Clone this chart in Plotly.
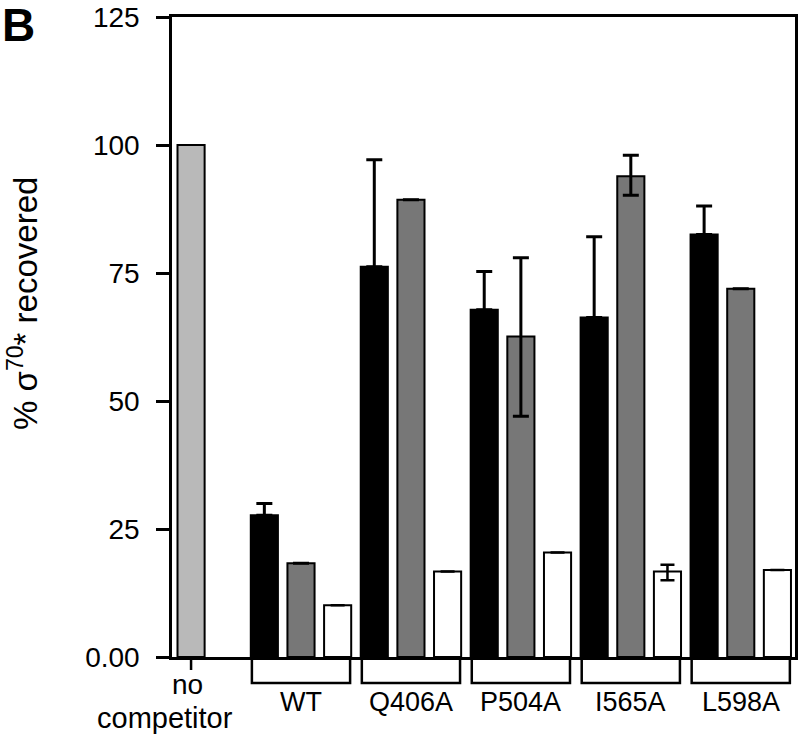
import numpy as np
import plotly.graph_objects as go

# ---- data ----
groups = ["WT", "Q406A", "P504A", "I565A", "L598A"]
nocomp_lines = ["no", "competitor"]
nocomp_value = [100]

black_vals = [27.7, 76.2, 67.8, 66.3, 82.5]
black_err_up = [2.3, 20.9, 7.5, 15.8, 5.6]

grey_vals = [18.3, 89.3, 62.6, 93.9, 71.9]
grey_err_up = [None, None, 15.4, 4.1, None]
grey_err_dn = [None, None, 15.6, 3.7, None]

white_vals = [10.1, 16.7, 20.4, 16.7, 17.0]
white_err_up = [None, None, None, 1.3, None]
white_err_dn = [None, None, None, 1.7, None]

y_ticks = [0, 25, 50, 75, 100, 125]
y_ticktext = ["0.00", "25", "50", "75", "100", "125"]

# ---- layout helpers ----
W, H = 800, 740
ML, MT = 172, 17
PW, PH = 623, 640
MR, MB = W - ML - PW, H - MT - PH
XMIN, XMAX = -0.52, 16.48
FONT = "Liberation Sans, Arial, Helvetica, sans-serif"

def py(pix):
    """screen pixel row -> paper y"""
    return (MT + PH - pix) / PH

def px(pix):
    return (pix - ML) / PW

gi = np.arange(len(groups))
x_black = 2 + 3 * gi
x_grey = 3 + 3 * gi
x_white = 4 + 3 * gi
x_center = 3 + 3 * gi
BW = 0.74

def clean(a):
    return [np.nan if v is None else v for v in a]

fig = go.Figure()
fig.add_trace(go.Bar(x=[0], y=nocomp_value, width=BW,
                     marker=dict(color="#b9b9b9", line=dict(color="black", width=2))))
fig.add_trace(go.Bar(x=x_black, y=black_vals, width=BW,
                     marker=dict(color="black", line=dict(color="black", width=2)),
                     error_y=dict(type="data", symmetric=False, array=black_err_up,
                                  arrayminus=[0] * len(groups), color="black",
                                  thickness=3, width=8)))
fig.add_trace(go.Bar(x=x_grey, y=grey_vals, width=BW,
                     marker=dict(color="#777777", line=dict(color="black", width=2)),
                     error_y=dict(type="data", symmetric=False, array=clean(grey_err_up),
                                  arrayminus=clean(grey_err_dn), color="black",
                                  thickness=3, width=8)))
fig.add_trace(go.Bar(x=x_white, y=white_vals, width=BW,
                     marker=dict(color="white", line=dict(color="black", width=2)),
                     error_y=dict(type="data", symmetric=False, array=clean(white_err_up),
                                  arrayminus=clean(white_err_dn), color="black",
                                  thickness=2.5, width=7)))

shapes = []
bh = 26 / PH
half = 1.34
for c in x_center:
    shapes.append(dict(type="path", xref="x", yref="paper",
                       path=f"M {c-half},0 L {c-half},{-bh} L {c+half},{-bh} L {c+half},0",
                       line=dict(color="black", width=2.5)))
shapes.append(dict(type="line", xref="x", yref="paper", x0=0, x1=0, y0=0, y1=-13 / PH,
                   line=dict(color="black", width=2.5)))

annotations = []
for c, g in zip(x_center, groups):
    annotations.append(dict(x=c, xref="x", y=py(702), yref="paper",
                            text=g, showarrow=False, xanchor="center", yanchor="middle",
                            font=dict(size=27, color="black", family=FONT)))
annotations.append(dict(x=px(187), xref="paper", y=py(684), yref="paper",
                        text=nocomp_lines[0], showarrow=False, xanchor="center", yanchor="middle",
                        font=dict(size=28, color="black", family=FONT)))
annotations.append(dict(x=px(165), xref="paper", y=py(718), yref="paper",
                        text=nocomp_lines[1], showarrow=False, xanchor="center", yanchor="middle",
                        font=dict(size=29, color="black", family=FONT)))
annotations.append(dict(x=px(23), xref="paper", y=py(304), yref="paper",
                        text="% σ<sup>70</sup>* recovered", textangle=-90, showarrow=False,
                        xanchor="center", yanchor="middle",
                        font=dict(size=33, color="black", family=FONT)))
annotations.append(dict(x=px(18), xref="paper", y=py(25), yref="paper",
                        text="<b>B</b>", showarrow=False, xanchor="center", yanchor="middle",
                        font=dict(size=46, color="black", family=FONT)))

fig.update_layout(
    width=W, height=H,
    margin=dict(l=ML, r=MR, t=MT, b=MB, pad=0, autoexpand=False),
    plot_bgcolor="white", paper_bgcolor="white",
    showlegend=False, barmode="overlay", hovermode=False,
    shapes=shapes, annotations=annotations,
    font=dict(family=FONT, color="black"),
    xaxis=dict(range=[XMIN, XMAX], showgrid=False, zeroline=False, showticklabels=False,
               ticks="", showline=True, linecolor="black", linewidth=2.5, mirror=True,
               automargin=False),
    yaxis=dict(range=[0, 125], tickvals=y_ticks, ticktext=y_ticktext, showgrid=False,
               zeroline=False, ticks="outside", ticklen=13, tickwidth=2.5, tickcolor="black",
               showline=True, linecolor="black", linewidth=2.5, mirror=True,
               automargin=False, ticklabeloverflow="allow",
               tickfont=dict(size=28, color="black", family=FONT), ticklabelstandoff=11),
)

fig.write_html("out.html", config={"displayModeBar": False},
               post_script="document.body.style.margin='0';document.body.style.overflow='hidden';")
